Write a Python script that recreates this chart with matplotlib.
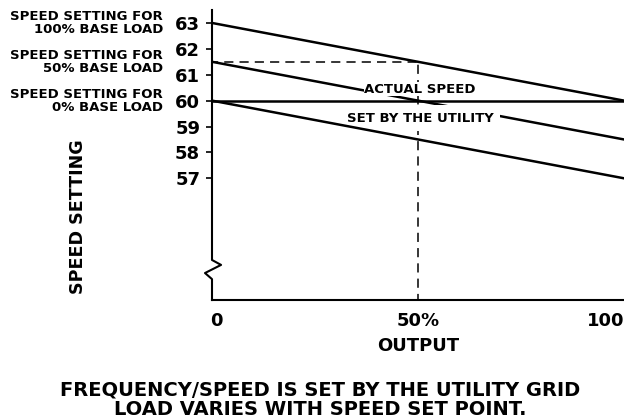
import matplotlib
matplotlib.use("Agg")
import matplotlib.pyplot as plt
import matplotlib.transforms as mtransforms

# ---- data ----
output_pct = [0, 100]
setting_100 = [63, 60]       # speed setting for 100% base load
setting_50 = [61.5, 58.5]    # speed setting for 50% base load
setting_0 = [60, 57]         # speed setting for 0% base load
utility_speed = [60, 60]     # actual speed set by the utility
operating_output = 50
operating_setting = 61.5
yticks = [57, 58, 59, 60, 61, 62, 63]
xticks = [0, 50, 100]
xticklabels = ["0", "50%", "100%"]
setting_labels = ["SPEED SETTING FOR\n100% BASE LOAD",
                  "SPEED SETTING FOR\n50% BASE LOAD",
                  "SPEED SETTING FOR\n0% BASE LOAD"]
setting_label_values = [63, 61.5, 60]

plt.rcParams['font.family'] = ['DejaVu Sans']
plt.rcParams['font.weight'] = 'bold'

W, H = 624, 420
fig = plt.figure(figsize=(W / 100, H / 100), dpi=100)
ax = fig.add_axes([212 / W, 120 / H, 412 / W, 290 / H])
ax.set_xlim(0, 100)
ax.set_ylim(52.3, 63.5)

lw = 1.8
ax.plot(output_pct, setting_100, color='black', lw=lw, zorder=4)
ax.plot(output_pct, setting_50, color='black', lw=lw, zorder=2)
ax.plot(output_pct, setting_0, color='black', lw=lw, zorder=4)
ax.plot(output_pct, utility_speed, color='black', lw=lw, zorder=4)

dash = (2, (6, 4))
ax.plot([0, operating_output], [operating_setting, operating_setting],
        color='black', lw=1.1, ls=dash, zorder=1)
ax.plot([operating_output, operating_output], [ax.get_ylim()[0], operating_setting],
        color='black', lw=1.1, ls=dash, zorder=1)

ax.text(50.5, 60.31, "ACTUAL SPEED", ha='center', va='baseline', fontsize=9.5,
        fontweight='bold', zorder=3,
        bbox=dict(boxstyle='square,pad=0.05', fc='white', ec='none'))
ax.text(50.5, 59.19, "SET BY THE UTILITY", ha='center', va='baseline', fontsize=9.5,
        fontweight='bold', zorder=3,
        bbox=dict(boxstyle='square,pad=0.5', fc='white', ec='none'))

for lab, val in zip(setting_labels, setting_label_values):
    ax.annotate(lab, xy=(0, val), xytext=(-35.3, 0), textcoords='offset points',
                ha='right', va='center', multialignment='right', fontsize=9.5,
                fontweight='bold', linespacing=1.0, annotation_clip=False)

# axes styling
for s in ['top', 'right', 'left']:
    ax.spines[s].set_visible(False)
ax.spines['bottom'].set_linewidth(1.5)
# y axis line with break symbol
ax.plot([0, 0, 0.022, -0.017, 0, 0], [1, 0.138, 0.121, 0.093, 0.072, 0],
        transform=ax.transAxes, color='black', lw=1.5, clip_on=False, zorder=5)

ax.set_yticks(yticks)
ax.tick_params(axis='y', direction='out', length=4.5, width=1.2, pad=4, labelsize=13)
ax.set_xticks(xticks, xticklabels)
ax.tick_params(axis='x', length=0, pad=9, labelsize=13)
for t in ax.get_yticklabels() + ax.get_xticklabels():
    t.set_fontweight('bold')
lbl0 = ax.get_xticklabels()[0]
lbl0.set_transform(lbl0.get_transform() + mtransforms.ScaledTranslation(4 / 100, 0, fig.dpi_scale_trans))
lbl = ax.get_xticklabels()[2]
lbl.set_transform(lbl.get_transform() + mtransforms.ScaledTranslation(-9 / 100, 0, fig.dpi_scale_trans))

ax.set_xlabel("OUTPUT", fontsize=13, fontweight='bold')
ax.xaxis.set_label_coords(0.5, -0.128)

fig.text(78 / W, 1 - 217 / H, "SPEED SETTING", rotation=90, ha='center', va='center',
         fontsize=12.6, fontweight='bold')
fig.text(320 / W, 0.049, "FREQUENCY/SPEED IS SET BY THE UTILITY GRID\nLOAD VARIES WITH SPEED SET POINT.",
         ha='center', va='center', fontsize=14, fontweight='bold', linespacing=1.05)

fig.savefig("out.png", dpi=100, facecolor='white')
